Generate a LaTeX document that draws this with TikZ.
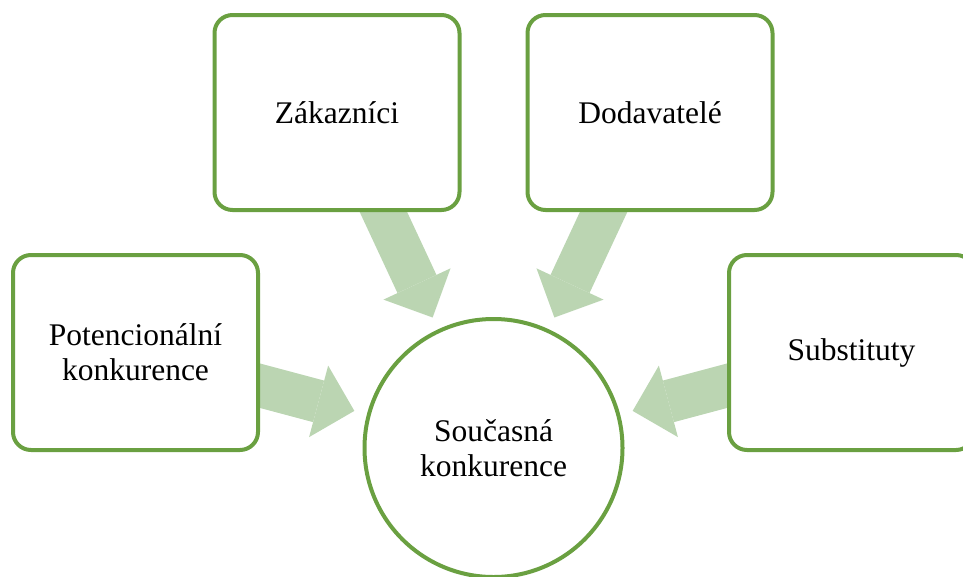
\documentclass[tikz,border=0pt]{standalone}
\usepackage{fontspec}
\setmainfont{Liberation Serif}
\usetikzlibrary{arrows.meta, backgrounds}

\definecolor{leafgreen}{RGB}{106,160,65}
\definecolor{palegreen}{RGB}{187,213,178}

\begin{document}
\begin{tikzpicture}[x=1pt, y=-1pt,
        box/.style={draw=leafgreen, line width=4pt, rounded corners=18pt, fill=white,
            minimum width=245pt, minimum height=195pt, align=center,
            font=\fontsize{31.5}{35}\selectfont},
        hub/.style={circle, draw=leafgreen, line width=4pt, fill=white,
            minimum size=258pt, inner sep=0pt, align=center,
            font=\fontsize{31.5}{35}\selectfont},
        push/.style={draw=palegreen, line width=43pt,
            -{Triangle[width=74pt, length=37pt, line width=0pt, fill=palegreen]},
            shorten >=13pt}]
        \useasboundingbox (0,0) rectangle (963,576);

        \node[hub] (cur) at (493.5,448) {Současná\\konkurence}; % centre
        \node[box] (zak) at (337,112.5) {Zákazníci};
        \node[box] (dod) at (650,112.5) {Dodavatelé};
        \node[box] (pot) at (135.5,352.5) {Potencionální\\konkurence};
        \node[box] (sub) at (851.5,352.5) {Substituty};

        % Block arrows towards the centre, behind the boxes
        \begin{scope}[on background layer]
            \foreach \src in {zak, dod, pot, sub} {
                \draw[push] (\src.center) -- (cur);
            }
        \end{scope}
\end{tikzpicture}
\end{document}
